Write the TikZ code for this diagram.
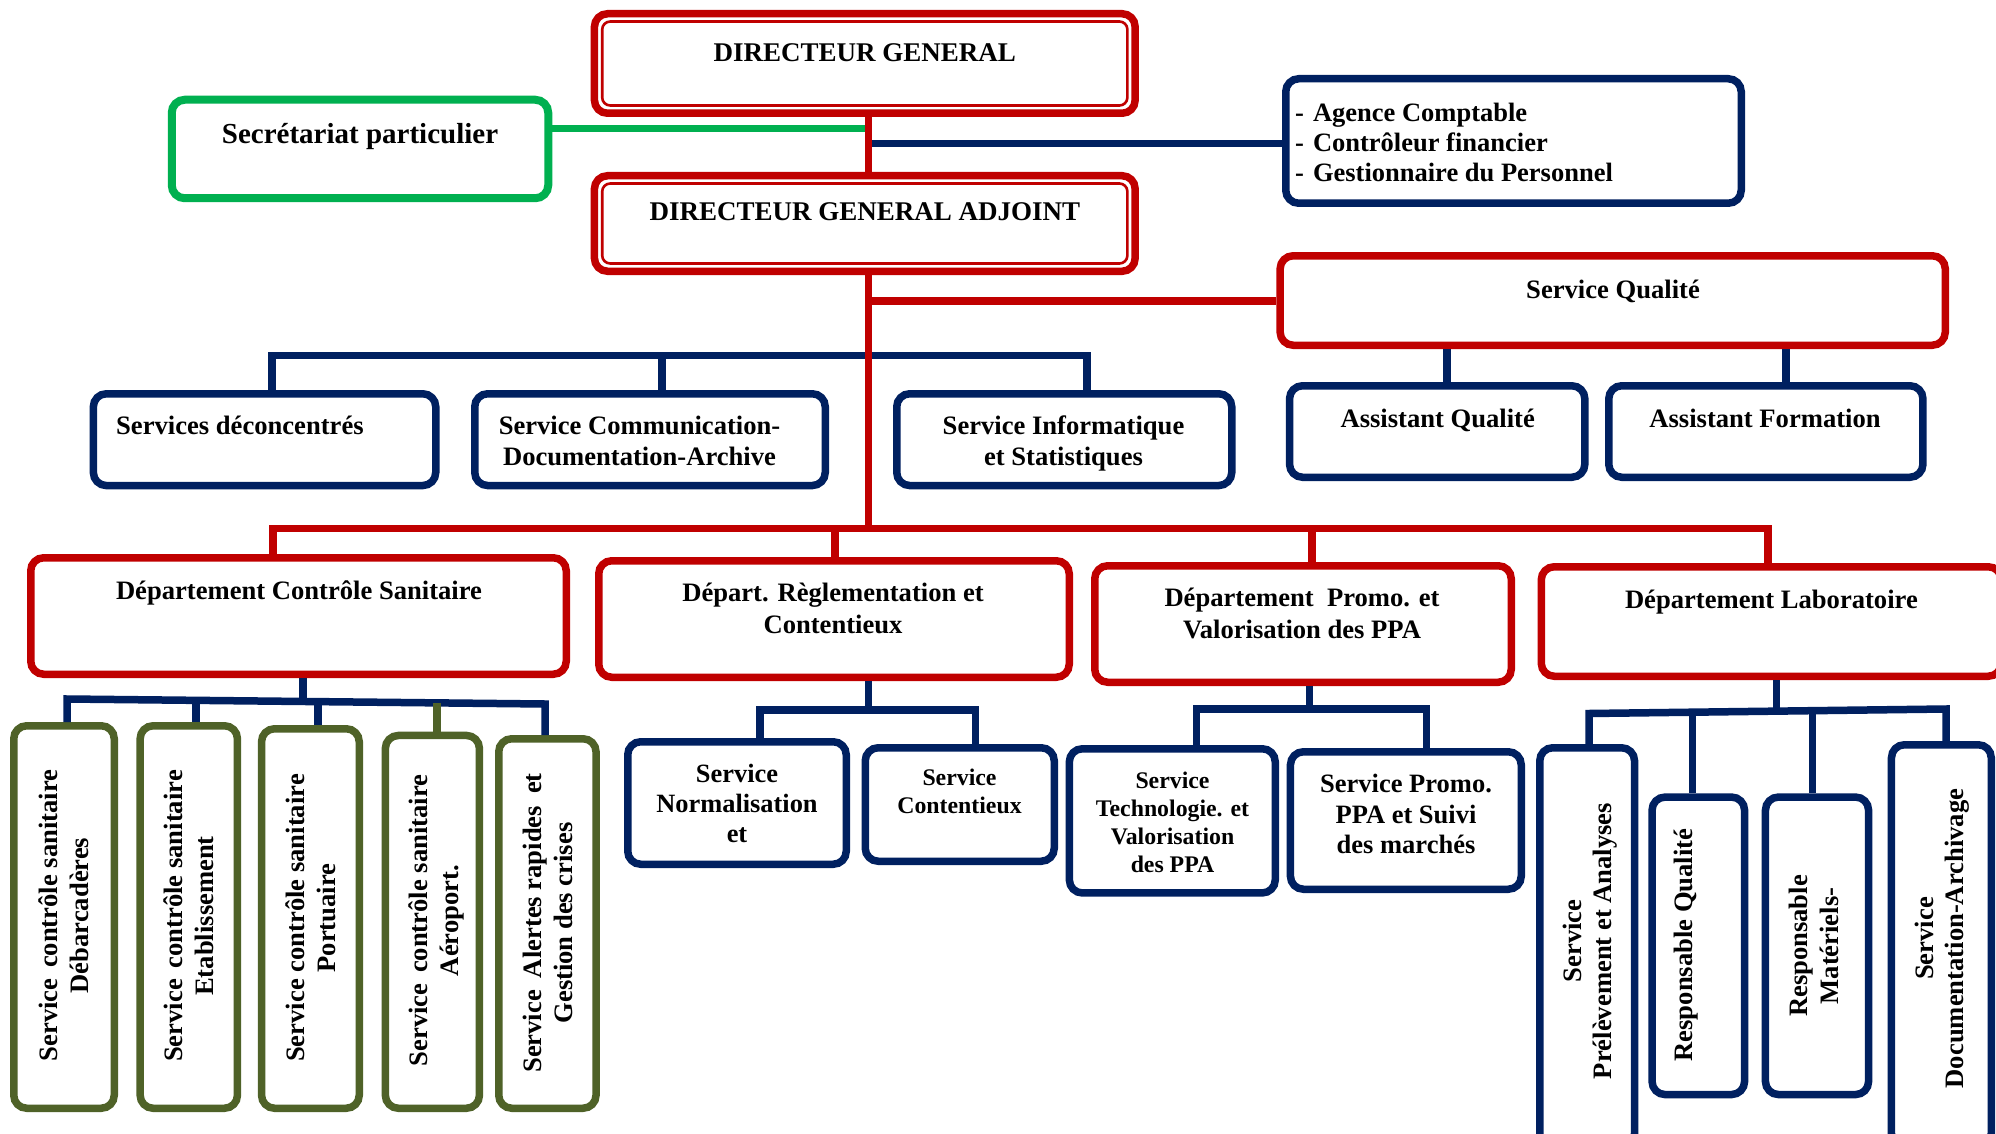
\documentclass[tikz,border=0pt]{standalone}
\usepackage{fontspec}
\setmainfont{Liberation Serif}
\definecolor{orgred}{HTML}{C00000}
\definecolor{orgnavy}{HTML}{002060}
\definecolor{orggreen}{HTML}{00B050}
\definecolor{orgolive}{HTML}{4F6228}
% box given by its outer edges: style, name, x1, y1, x2, y2
\newcommand\orgbox[6]{\node[#1, minimum width={#5-#3-7.5}, minimum height={#6-#4-7.5}] (#2) at ({(#3+#5)/2},{(#4+#6)/2}) {};}
% thin frame inside a director box: name of frame, box x1, y1, x2, y2
\newcommand\innerbox[5]{\node[innerframe, minimum width={#4-#2-23}, minimum height={#5-#3-23}] (#1) at ({(#2+#4)/2},{(#3+#5)/2}) {};}
\newcommand\orglines[2][t]{\begin{tabular}[#1]{@{}c@{}}#2\end{tabular}}
\begin{document}
\begin{tikzpicture}[x=1pt,y=-1pt,
  box/.style={draw, rounded corners=13pt, line width=7.5pt, inner sep=0pt, fill=white},
  redbox/.style={box, draw=orgred},
  navybox/.style={box, draw=orgnavy},
  greenbox/.style={box, draw=orggreen, line width=8pt},
  olivebox/.style={box, draw=orgolive},
  innerframe/.style={draw=orgred, line width=2.6pt, rounded corners=8pt, inner sep=0pt},
  link/.style={line width=7.5pt},
  redlink/.style={link, draw=orgred},
  navylink/.style={link, draw=orgnavy},
  greenlink/.style={link, draw=orggreen},
  olivelink/.style={link, draw=orgolive},
  lbl/.style={inner sep=0pt, font=\bfseries\fontsize{26.6}{31}\selectfont},
  lblsize/.style 2 args={font=\bfseries\fontsize{#1}{#2}\selectfont},
]
\fill[white] (0,0) rectangle (1996,1134);
\useasboundingbox (0,0) rectangle (1996,1134);
\clip (0,0) rectangle (1996,1134);

% ---- boxes ----
\orgbox{greenbox}{sec}{168}{96}{552}{202}
\orgbox{redbox}{dg}{590.7}{10}{1138.9}{117}
\orgbox{redbox}{dga}{590.7}{172}{1138.9}{275}
\orgbox{navybox}{agc}{1282}{75}{1745}{207}
\orgbox{redbox}{sq}{1276.4}{252}{1949}{349}
\orgbox{navybox}{aq}{1285.8}{382}{1588.6}{481}
\orgbox{navybox}{af}{1605}{382}{1926.7}{481}
\orgbox{navybox}{sd}{89.6}{390}{439.5}{489.3}
\orgbox{navybox}{comm}{471}{390}{829}{489.3}
\orgbox{navybox}{info}{893}{390}{1235.5}{489.3}
\orgbox{redbox}{dcs}{27}{554}{570}{678}
\orgbox{redbox}{drc}{595}{557}{1073}{681}
\orgbox{redbox}{dpv}{1091}{562}{1515}{686}
\orgbox{redbox}{dlab}{1537.5}{563}{2005}{680}
\orgbox{olivebox}{cs1}{10}{722}{118}{1112}
\orgbox{olivebox}{cs2}{136.4}{722}{241.2}{1112}
\orgbox{olivebox}{cs3}{257.8}{725}{363}{1112}
\orgbox{olivebox}{cs4}{381.6}{731.7}{483.2}{1112}
\orgbox{olivebox}{cs5}{495}{735}{599.8}{1112}
\orgbox{navybox}{norm}{624}{738}{850}{868}
\orgbox{navybox}{cont}{861.5}{744}{1058}{865}
\orgbox{navybox}{tech}{1065.6}{745}{1279}{896.7}
\orgbox{navybox}{ppa}{1286.7}{748}{1525}{893}
\orgbox{navybox}{prel}{1536}{744}{1638.3}{1150}
\orgbox{navybox}{rq}{1648.3}{793.3}{1748.3}{1098.3}
\orgbox{navybox}{rm}{1761.7}{793.3}{1872.3}{1098.3}
\orgbox{navybox}{doc}{1887.7}{741}{1995}{1150}

% inner thin frames of the two director boxes
\innerbox{dgin}{590.7}{10}{1138.9}{117}
\innerbox{dgain}{590.7}{172}{1138.9}{275}

% ---- junction points ----
\coordinate (s0) at (868.7,0);
\coordinate (jg) at (868.7,128.7);
\coordinate (jn) at (868.7,143.7);
\coordinate (jsq) at (868.7,301);
\coordinate (jdep) at (868.7,528.5);
\coordinate (t1) at (272,355.5);
\coordinate (t2) at (662,355.5);
\coordinate (t3) at (1087,355.5);
\coordinate (q1) at (1447,0);
\coordinate (q2) at (1786,0);
\coordinate (d1) at (273,528.5);
\coordinate (d2) at (835,528.5);
\coordinate (d3) at (1312,528.5);
\coordinate (d4) at (1768,528.5);
\coordinate (c0) at (303,701.5);
\coordinate (c1) at (67,699);
\coordinate (c2) at (196,700.4);
\coordinate (c3) at (318,701.6);
\coordinate (c4) at (437,702.9);
\coordinate (c5) at (545,704);
\coordinate (r0) at (868.5,710);
\coordinate (r1) at (760,710);
\coordinate (r2) at (975.5,710);
\coordinate (p0) at (1309.5,709);
\coordinate (p1) at (1196.5,709);
\coordinate (p2) at (1426.5,709);
\coordinate (l0) at (1776.7,711.1);
\coordinate (l1) at (1589,713.5);
\coordinate (l2) at (1692.7,712.2);
\coordinate (l3) at (1812.3,710.7);
\coordinate (l4) at (1946,709);

% ---- connectors ----
\draw[greenlink] (jg -| sec.east) -- (jg);
\draw[navylink] (jn) -- (jn -| agc.west);
\draw[navylink] (sd.north -| t1) -- (t1) -- (t3) -- (info.north -| t3);
\draw[navylink] (t2) -- (comm.north -| t2);
\draw[navylink] (sq.south -| q1) -- (aq.north -| q1);
\draw[navylink] (sq.south -| q2) -- (af.north -| q2);
\draw[redlink] (dg.south -| s0) -- (dga.north -| s0);
\draw[redlink] (dga.south -| s0) -- (jdep);
\draw[redlink] (jsq) -- (jsq -| sq.west);
\draw[redlink] (dcs.north -| d1) -- (d1) -- (d4) -- (dlab.north -| d4);
\draw[redlink] (d2) -- (drc.north -| d2);
\draw[redlink] (d3) -- (dpv.north -| d3);
% Contrôle Sanitaire services
\draw[navylink] (dcs.south -| c0) -- (c0);
\draw[navylink] (cs1.north -| c1) -- (c1) -- (c5) -- (cs5.north -| c5);
\draw[navylink] (c2) -- (cs2.north -| c2);
\draw[navylink] (c3) -- (cs3.north -| c3);
\draw[olivelink] (c4) -- (cs4.north -| c4);
% Règlementation services
\draw[navylink] (drc.south -| r0) -- (r0);
\draw[navylink] (norm.north -| r1) -- (r1) -- (r2) -- (cont.north -| r2);
% Promotion services
\draw[navylink] (dpv.south -| p0) -- (p0);
\draw[navylink] (tech.north -| p1) -- (p1) -- (p2) -- (ppa.north -| p2);
% Laboratoire services
\draw[navylink] (dlab.south -| l0) -- (l0);
\draw[navylink] (prel.north -| l1) -- (l1) -- (l4) -- (doc.north -| l4);
\draw[navylink] (l2) -- (rq.north -| l2);
\draw[navylink] (l3) -- (rm.north -| l3);

% ---- labels ----
\node[lbl, anchor=base, lblsize={29}{33}] (sect) at (360,144) {Secrétariat particulier};
\node[lbl, anchor=base, lblsize={27}{31}] (dgt) at (864.8,62) {DIRECTEUR GENERAL};
\node[lbl, anchor=base, lblsize={27}{31}] (dgat) at (865,221) {DIRECTEUR GENERAL ADJOINT};
\node[lbl, anchor=base west, lblsize={26.5}{30}] (agct) at (1295,122)
  {\begin{tabular}[t]{@{}l@{\hspace{9pt}}l@{}}-&Agence Comptable\\-&Contrôleur financier\\-&Gestionnaire du Personnel\end{tabular}};
\node[lbl, anchor=base] (sqt) at (1613,298) {Service Qualité};
\node[lbl, anchor=base] (aqt) at (1437.7,427) {Assistant Qualité};
\node[lbl, anchor=base] (aft) at (1765,427) {Assistant Formation};
\node[lbl, anchor=base west] (sdt) at (116,434.3) {Services déconcentrés};
\node[lbl, anchor=base] (commt) at (639.5,434.3) {\orglines{Service Communication-\\Documentation-Archive}};
\node[lbl, anchor=base] (infot) at (1063.5,434.3) {\orglines{Service Informatique\\et Statistiques}};
\node[lbl, anchor=base] (dcst) at (299,599.3) {Département Contrôle Sanitaire};
\node[lbl, anchor=base, lblsize={26.6}{31.6}] (drct) at (833,601.7) {\orglines{Départ. Règlementation et\\Contentieux}};
\node[lbl, anchor=base, lblsize={26.6}{31.4}] (dpvt) at (1302,606.7) {\orglines{Département\hspace{0.5em}Promo. et\\Valorisation des PPA}};
\node[lbl, anchor=base] (dlabt) at (1771.4,608) {Département Laboratoire};
\node[lbl, anchor=base, lblsize={26.4}{30}] (normt) at (737,782.7) {\orglines{Service\\Normalisation\\et}};
\node[lbl, anchor=base, lblsize={23.8}{28.3}] (contt) at (959.5,785) {\orglines{Service\\Contentieux}};
\node[lbl, anchor=base, lblsize={23.8}{28.1}] (techt) at (1172.5,788.3) {\orglines{Service\\Technologie. et\\Valorisation\\des PPA}};
\node[lbl, anchor=base, lblsize={26.5}{30.3}] (ppat) at (1406,792.7) {\orglines{Service Promo.\\PPA et Suivi\\des marchés}};
% vertical labels
\node[lbl, rotate=90] (cs1t) at (67,915.5) {\orglines[c]{Service\hspace{0.4em}contrôle sanitaire\\Débarcadères}};
\node[lbl, rotate=90] (cs2t) at (191.5,916) {\orglines[c]{Service\hspace{0.4em}contrôle sanitaire\\Etablissement}};
\node[lbl, rotate=90] (cs3t) at (314,918) {\orglines[c]{Service contrôle sanitaire\\Portuaire}};
\node[lbl, rotate=90] (cs4t) at (436.3,920.5) {\orglines[c]{Service\hspace{0.4em}contrôle sanitaire\\Aéroport.}};
\node[lbl, rotate=90] (cs5t) at (550.3,923) {\orglines[c]{Service\hspace{0.45em}Alertes rapides\hspace{0.45em}et\\Gestion des crises}};
\node[lbl, rotate=90, lblsize={26.6}{30}] (prelt) at (1590.8,941) {\orglines[c]{Service\\Prélèvement et Analyses}};
\node[lbl, rotate=90] (rqt) at (1685.8,945) {Responsable Qualité};
\node[lbl, rotate=90] (rmt) at (1816.3,946) {\orglines[c]{Responsable\\Matériels-}};
\node[lbl, rotate=90, lblsize={26.6}{30}] (doct) at (1942,938.5) {\orglines[c]{Service\\Documentation-Archivage}};
\end{tikzpicture}
\end{document}
